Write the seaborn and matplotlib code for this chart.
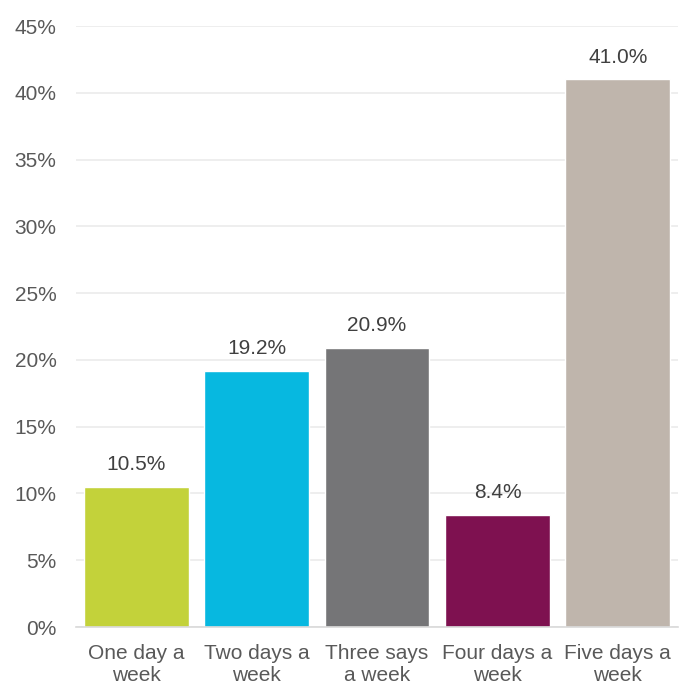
import matplotlib
matplotlib.use("Agg")
import matplotlib.pyplot as plt
import seaborn as sns
import pandas as pd

categories = ["One day a\nweek", "Two days a\nweek", "Three says\na week", "Four days a\nweek", "Five days a\nweek"]
values = [10.5, 19.2, 20.9, 8.4, 41.0]
colors = ["#C3D23A", "#07B8E0", "#757577", "#7E1150", "#BFB5AC"]
y_ticks = [0, 5, 10, 15, 20, 25, 30, 35, 40, 45]

sns.set_theme(style="white")
plt.rcParams["font.family"] = ["Liberation Sans", "DejaVu Sans"]

df = pd.DataFrame({"category": categories, "value": values})

fig = plt.figure(figsize=(6.87, 6.86), dpi=100)
ax = fig.add_axes([0.1106, 0.086, 0.8764, 0.876])

sns.barplot(data=df, x="category", y="value", hue="category", palette=colors,
            width=0.87, legend=False, ax=ax, saturation=1)

ax.set_ylim(0, 45)
ax.set_xlim(-0.5, 4.5)
ax.set_yticks(y_ticks)
ax.set_yticklabels([f"{t}%" for t in y_ticks])
ax.yaxis.grid(True, color="#EBEBEB", linewidth=1.2)
ax.set_axisbelow(True)
for s in ["top", "right", "left"]:
    ax.spines[s].set_visible(False)
ax.spines["bottom"].set_color("#D9D9D9")
ax.spines["bottom"].set_linewidth(1.2)
ax.tick_params(axis="both", length=0, labelsize=15, colors="#595959")
ax.tick_params(axis="y", pad=14)
ax.tick_params(axis="x", pad=12)
ax.set_xlabel("")
ax.set_ylabel("")
for lbl in ax.get_xticklabels():
    lbl.set_linespacing(1.2)

for i, v in enumerate(values):
    ax.annotate(f"{v:.1f}%", (i, v), xytext=(0, 9), textcoords="offset points",
                ha="center", va="bottom", fontsize=15, color="#404040")

fig.savefig("out.png", dpi=100)
